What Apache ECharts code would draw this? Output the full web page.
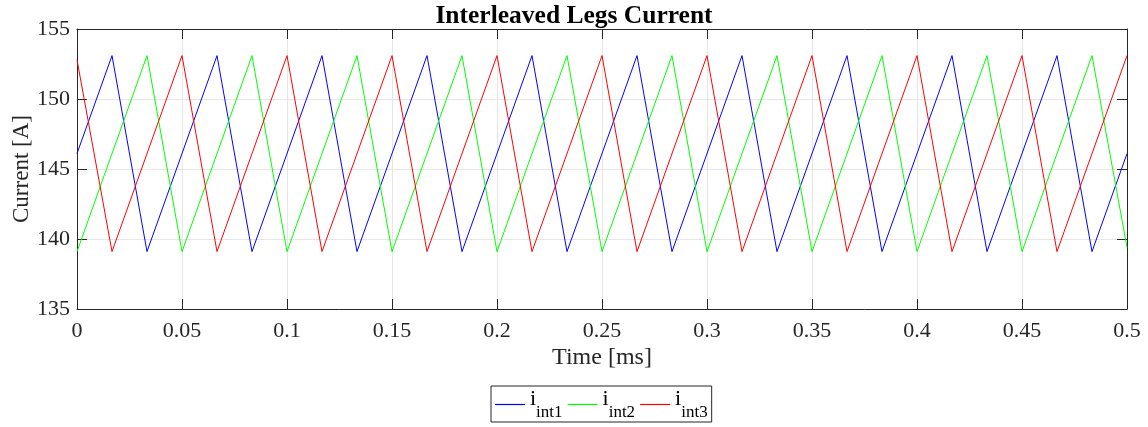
<!DOCTYPE html>
<html>
<head>
<meta charset="utf-8">
<script src="https://cdn.jsdelivr.net/npm/echarts@6/dist/echarts.min.js"></script>
<style>html,body{margin:0;padding:0;background:#fff}#c{width:1148px;height:427px}</style>
</head>
<body>
<div id="c"></div>
<script>
// Data (time in ms, current in A) - vertices of the triangle waveforms
var seriesNames = ['i_int1', 'i_int2', 'i_int3'];
var int1Time = [0, 0.01667, 0.03333, 0.06667, 0.08333, 0.11667, 0.13333, 0.16667, 0.18333, 0.21667, 0.23333, 0.26667, 0.28333, 0.31667, 0.33333, 0.36667, 0.38333, 0.41667, 0.43333, 0.46667, 0.48333, 0.5];
var int1Value = [146.1, 153.1, 139.1, 153.1, 139.1, 153.1, 139.1, 153.1, 139.1, 153.1, 139.1, 153.1, 139.1, 153.1, 139.1, 153.1, 139.1, 153.1, 139.1, 153.1, 139.1, 146.1];
var int2Time = [0, 0.03333, 0.05, 0.08333, 0.1, 0.13333, 0.15, 0.18333, 0.2, 0.23333, 0.25, 0.28333, 0.3, 0.33333, 0.35, 0.38333, 0.4, 0.43333, 0.45, 0.48333, 0.5];
var int2Value = [139.1, 153.1, 139.1, 153.1, 139.1, 153.1, 139.1, 153.1, 139.1, 153.1, 139.1, 153.1, 139.1, 153.1, 139.1, 153.1, 139.1, 153.1, 139.1, 153.1, 139.4];
var int3Time = [0, 0.01667, 0.05, 0.06667, 0.1, 0.11667, 0.15, 0.16667, 0.2, 0.21667, 0.25, 0.26667, 0.3, 0.31667, 0.35, 0.36667, 0.4, 0.41667, 0.45, 0.46667, 0.5];
var int3Value = [152.8, 139.1, 153.1, 139.1, 153.1, 139.1, 153.1, 139.1, 153.1, 139.1, 153.1, 139.1, 153.1, 139.1, 153.1, 139.1, 153.1, 139.1, 153.1, 139.1, 153.1];
var xTicks = [0, 0.05, 0.1, 0.15, 0.2, 0.25, 0.3, 0.35, 0.4, 0.45, 0.5];
var yTicks = [135, 140, 145, 150, 155];

function pairs(t, v) { return t.map(function (x, i) { return [x, v[i]]; }); }

var FONT = 'Liberation Serif';
var AX = '#262626';
var colors = ['#0000ff', '#00ff00', '#ff0000'];
var chart = echarts.init(document.getElementById('c'), null, {renderer: 'canvas'});

function xAx(show, pos) {
  return {
    type: 'value', position: pos, min: xTicks[0], max: xTicks[xTicks.length - 1], interval: 0.05,
    axisLine: {show: true, onZero: false, lineStyle: {color: AX, width: 1}},
    axisTick: {show: true, inside: true, length: 10, lineStyle: {color: AX}},
    axisLabel: {show: show, fontFamily: FONT, fontSize: 22, color: AX, margin: 11,
      formatter: function (v) { return String(+v.toFixed(2)); }},
    splitLine: {show: show, lineStyle: {color: '#e6e6e6', width: 1}},
    name: show ? 'Time [ms]' : '', nameLocation: 'middle', nameGap: 37, nameMoveOverlap: false,
    nameTextStyle: {fontFamily: FONT, fontSize: 24, color: AX}
  };
}
function yAx(show, pos) {
  return {
    type: 'value', position: pos, min: yTicks[0], max: yTicks[yTicks.length - 1], interval: 5,
    axisLine: {show: true, onZero: false, lineStyle: {color: AX, width: 1}},
    axisTick: {show: true, inside: true, length: 10, lineStyle: {color: AX}},
    axisLabel: {show: show, fontFamily: FONT, fontSize: 22, color: AX, margin: 7},
    splitLine: {show: show, lineStyle: {color: '#e6e6e6', width: 1}},
    name: show ? 'Current [A]' : '', nameLocation: 'middle', nameGap: 44, nameMoveOverlap: false,
    nameTextStyle: {fontFamily: FONT, fontSize: 23, color: AX}
  };
}

var timeArrays = [int1Time, int2Time, int3Time];
var valueArrays = [int1Value, int2Value, int3Value];

chart.setOption({
  animation: false,
  title: {text: 'Interleaved Legs Current', left: 'center', top: -2,
    textStyle: {fontFamily: FONT, fontSize: 25.5, fontWeight: 'bold', color: '#000'}},
  grid: {left: 77, right: 21, top: 29, bottom: 118, containLabel: false, outerBoundsMode: 'none'},
  xAxis: [xAx(true, 'bottom'), xAx(false, 'top')],
  yAxis: [yAx(true, 'left'), yAx(false, 'right')],
  legend: {
    bottom: 5, left: 491, orient: 'horizontal',
    borderColor: AX, borderWidth: 1, padding: [2, 4, 1, 4],
    itemGap: 5, itemWidth: 30, itemHeight: 1.2,
    icon: 'rect',
    data: seriesNames,
    formatter: function (n) { return '{m|i}{s|' + n.split('_')[1] + '}'; },
    textStyle: {fontFamily: FONT, color: '#000', padding: [0, 0, 0, 0],
      rich: {
        m: {fontFamily: FONT, fontSize: 22, color: '#000', verticalAlign: 'top', lineHeight: 33},
        s: {fontFamily: FONT, fontSize: 17, color: '#000', verticalAlign: 'bottom', lineHeight: 33}
      }}
  },
  series: seriesNames.map(function (n, i) {
    return {
      name: n, type: 'line', xAxisIndex: 0, yAxisIndex: 0,
      data: pairs(timeArrays[i], valueArrays[i]),
      showSymbol: false, symbol: 'none',
      lineStyle: {color: colors[i], width: 1},
      itemStyle: {color: colors[i]}
    };
  })
});
</script>
</body>
</html>
